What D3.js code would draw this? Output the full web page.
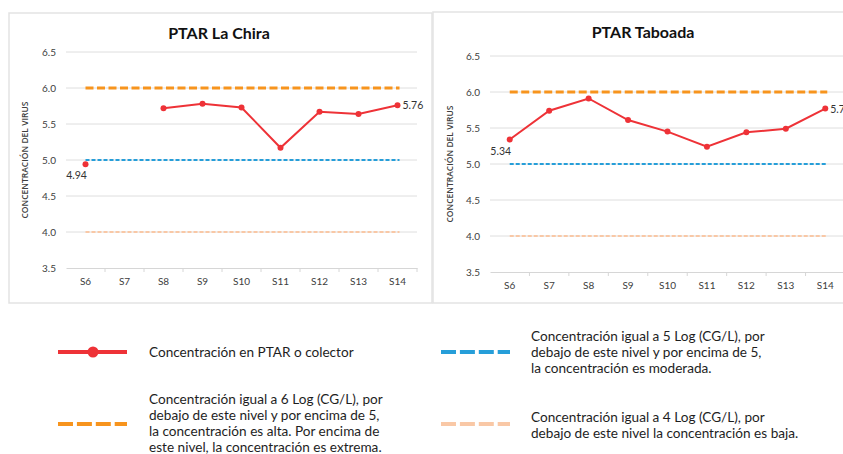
<!DOCTYPE html>
<html>
<head>
<meta charset="utf-8">
<script src="https://cdn.jsdelivr.net/npm/d3@7"></script>
<style>
  body { margin: 0; background: #fff; }
  svg { display: block; }
  .tick-lbl { font-family: Lato, "Open Sans", sans-serif; font-size: 10px; fill: #404040; }
  .ttl { font-family: Lato, "Open Sans", sans-serif; font-size: 16px; font-weight: bold; fill: #111; }
  .ytitle { font-family: "Open Sans", sans-serif; font-size: 8.5px; font-weight: 600; fill: #404040; }
  .vlbl { font-family: Lato, "Open Sans", sans-serif; font-size: 10.5px; fill: #333; }
  .leg { font-family: Lato, "Open Sans", sans-serif; font-size: 13.6px; fill: #1e1e1e; }
</style>
</head>
<body>
<svg id="chart" width="843" height="454"></svg>
<script>
var weeks = ["S6", "S7", "S8", "S9", "S10", "S11", "S12", "S13", "S14"];
var yTicks = [3.5, 4.0, 4.5, 5.0, 5.5, 6.0, 6.5];
var laChira = [4.94, null, 5.72, 5.78, 5.73, 5.17, 5.67, 5.64, 5.76];
var taboada = [5.34, 5.74, 5.91, 5.61, 5.45, 5.24, 5.44, 5.49, 5.77];
var levels = [6, 5, 4];
var levelColors = ["#f7941d", "#269ed9", "#f9c8a6"];
var legendLines = [
  ["Concentración en PTAR o colector"],
  ["Concentración igual a 6 Log (CG/L), por", "debajo de este nivel y por encima de 5,", "la concentración es alta. Por encima de", "este nivel, la concentración es extrema."],
  ["Concentración igual a 5 Log (CG/L), por", "debajo de este nivel y por encima de 5,", "la concentración es moderada."],
  ["Concentración igual a 4 Log (CG/L), por", "debajo de este nivel la concentración es baja."]
];

var red = "#ee3237";
var svg = d3.select("#chart");

var makePanel = function(p) {
  // frame
  svg.append("rect")
    .attr("x", p.box[0]).attr("y", p.box[1])
    .attr("width", p.box[2]).attr("height", p.box[3])
    .attr("fill", "#fff").attr("stroke", "#e3e3e3").attr("stroke-width", 1.5);

  var x = d3.scaleBand().domain(weeks).range([p.left, p.right]);
  var y = d3.scaleLinear().domain([3.5, 6.5]).range([p.bottom, p.top]);
  var cx = function(w) { return x(w) + x.bandwidth() / 2; };
  var g = svg.append("g");

  // grid
  g.selectAll(".grid").data(yTicks.slice(1)).enter().append("line")
    .attr("x1", p.left).attr("x2", p.right)
    .attr("y1", function(d) { return y(d); }).attr("y2", function(d) { return y(d); })
    .attr("stroke", "#dedede").attr("stroke-width", 1);

  // x axis
  var xAxis = d3.axisBottom(x).tickSize(0).tickPadding(10);
  var ax = g.append("g").attr("transform", "translate(0," + y(3.5) + ")").call(xAxis);
  ax.select(".domain").attr("stroke", "#d6d6d6");
  ax.selectAll("text").attr("class", "tick-lbl").attr("fill", null);
  ax.selectAll(".bnd").data(weeks).enter().append("line")
    .attr("x1", function(d) { return x(d) + x.bandwidth(); })
    .attr("x2", function(d) { return x(d) + x.bandwidth(); })
    .attr("y1", 0).attr("y2", 4).attr("stroke", "#d6d6d6");

  // y labels
  g.selectAll(".ylbl").data(yTicks).enter().append("text")
    .attr("class", "tick-lbl")
    .attr("x", p.left - 10).attr("y", function(d) { return y(d); })
    .attr("dy", "0.35em").attr("text-anchor", "end")
    .text(function(d) { return d3.format(".1f")(d); });

  g.append("text").attr("class", "ytitle")
    .attr("transform", "translate(" + p.yTitleX + "," + y(5) + ") rotate(-90)")
    .attr("text-anchor", "middle").attr("dy", "0.35em")
    .text("CONCENTRACIÓN DEL VIRUS");

  g.append("text").attr("class", "ttl")
    .attr("x", p.titleX).attr("y", p.titleY).attr("text-anchor", "middle")
    .text(p.title);

  // reference levels
  var dashes = ["8,3.5", "4,2", "4,2"];
  var widths = [3, 2, 2];
  g.selectAll(".lvl").data(levels).enter().append("line")
    .attr("x1", cx(weeks[0])).attr("x2", cx(weeks[weeks.length - 1]) + 2)
    .attr("y1", function(d) { return y(d); }).attr("y2", function(d) { return y(d); })
    .attr("stroke", function(d, i) { return levelColors[i]; })
    .attr("stroke-width", function(d, i) { return widths[i]; })
    .attr("stroke-dasharray", function(d, i) { return dashes[i]; });

  // series
  var pts = weeks.map(function(w, i) { return {w: w, v: p.values[i]}; });
  var line = d3.line()
    .defined(function(d) { return d.v != null; })
    .x(function(d) { return cx(d.w); })
    .y(function(d) { return y(d.v); });
  g.append("path").datum(pts)
    .attr("d", line).attr("fill", "none")
    .attr("stroke", red).attr("stroke-width", 2);
  g.selectAll(".pt").data(pts.filter(function(d) { return d.v != null; })).enter().append("circle")
    .attr("cx", function(d) { return cx(d.w); })
    .attr("cy", function(d) { return y(d.v); })
    .attr("r", 3).attr("fill", red);

  var first = pts[0], last = pts[pts.length - 1];
  g.append("text").attr("class", "vlbl")
    .attr("x", cx(first.w) - 9).attr("y", y(first.v) + 15)
    .attr("text-anchor", "middle").text(first.v.toFixed(2));
  g.append("text").attr("class", "vlbl")
    .attr("x", cx(last.w) + 5).attr("y", y(last.v) + 4)
    .text(last.v.toFixed(2));
};

makePanel({title: "PTAR La Chira", values: laChira, box: [9, 13, 423, 290],
  left: 66, right: 417, top: 52, bottom: 268, yTitleX: 25, titleX: 219, titleY: 39});
makePanel({title: "PTAR Taboada", values: taboada, box: [433, 12, 420, 291],
  left: 490, right: 845, top: 56, bottom: 272, yTitleX: 450, titleX: 643, titleY: 38});

// legend
var leg = svg.append("g");
var legItems = [
  {x: 58, y: 352, tx: 149, ty: 357, kind: "series"},
  {x: 58, y: 424, tx: 149, ty: 403.5, kind: 0},
  {x: 441, y: 352, tx: 531, ty: 341, kind: 1},
  {x: 441, y: 424, tx: 531, ty: 422, kind: 2}
];
legItems.forEach(function(it, i) {
  if (it.kind === "series") {
    leg.append("line").attr("x1", it.x).attr("x2", it.x + 69)
      .attr("y1", it.y).attr("y2", it.y).attr("stroke", red).attr("stroke-width", 4);
    leg.append("circle").attr("cx", it.x + 35).attr("cy", it.y).attr("r", 5.5).attr("fill", red);
  } else {
    leg.append("line").attr("x1", it.x).attr("x2", it.x + 69)
      .attr("y1", it.y).attr("y2", it.y)
      .attr("stroke", levelColors[it.kind]).attr("stroke-width", 4)
      .attr("stroke-dasharray", "15,3.9");
  }
  var t = leg.append("text").attr("class", "leg").attr("x", it.tx).attr("y", it.ty);
  legendLines[i].forEach(function(s, j) {
    t.append("tspan").attr("x", it.tx).attr("dy", j === 0 ? 0 : 16.1).text(s);
  });
});
</script>
</body>
</html>
